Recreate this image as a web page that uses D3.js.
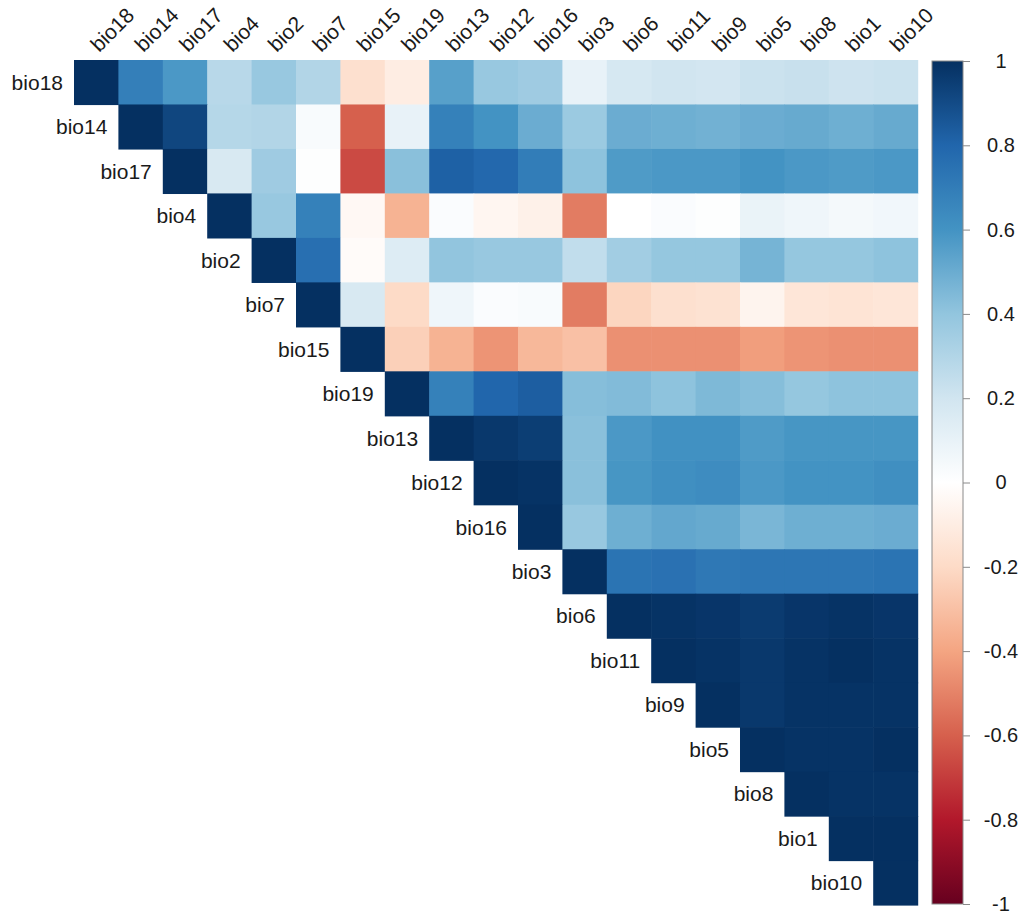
<!DOCTYPE html>
<html>
<head>
<meta charset="utf-8">
<script src="https://cdn.jsdelivr.net/npm/d3@7"></script>
<style>
  body { margin: 0; background: #fff; }
  text { font-family: "Liberation Sans", Arial, sans-serif; fill: #1a1a1a; }
</style>
</head>
<body>
<svg id="chart" width="1026" height="917"></svg>
<script>
// variable order (hclust order from the figure)
var vars = ['bio18', 'bio14', 'bio17', 'bio4', 'bio2', 'bio7', 'bio15', 'bio19', 'bio13',
            'bio12', 'bio16', 'bio3', 'bio6', 'bio11', 'bio9', 'bio5', 'bio8', 'bio1', 'bio10']

// upper triangle, each row starts at its diagonal
var corr = [
  [1, 0.69, 0.58, 0.28, 0.38, 0.30, -0.17, -0.10, 0.55, 0.38, 0.36, 0.10, 0.18, 0.20, 0.19, 0.22, 0.23, 0.21, 0.22],
  [1, 0.92, 0.29, 0.30, 0.03, -0.60, 0.10, 0.68, 0.60, 0.50, 0.37, 0.50, 0.49, 0.48, 0.50, 0.51, 0.49, 0.51],
  [1, 0.17, 0.36, 0.01, -0.66, 0.42, 0.82, 0.79, 0.70, 0.41, 0.57, 0.58, 0.58, 0.60, 0.58, 0.57, 0.58],
  [1, 0.38, 0.68, -0.04, -0.35, 0.02, -0.05, -0.08, -0.52, 0.00, 0.02, 0.01, 0.09, 0.07, 0.05, 0.06],
  [1, 0.76, -0.02, 0.15, 0.40, 0.38, 0.38, 0.25, 0.35, 0.39, 0.39, 0.47, 0.39, 0.39, 0.41],
  [1, 0.17, -0.20, 0.07, 0.02, 0.03, -0.52, -0.22, -0.17, -0.16, -0.06, -0.14, -0.15, -0.14],
  [1, -0.24, -0.35, -0.45, -0.33, -0.30, -0.46, -0.46, -0.46, -0.42, -0.45, -0.46, -0.46],
  [1, 0.68, 0.80, 0.83, 0.43, 0.44, 0.41, 0.45, 0.43, 0.39, 0.41, 0.41],
  [1, 0.97, 0.95, 0.42, 0.58, 0.61, 0.61, 0.57, 0.59, 0.59, 0.59],
  [1, 0.99, 0.42, 0.59, 0.62, 0.63, 0.58, 0.60, 0.60, 0.62],
  [1, 0.38, 0.49, 0.52, 0.51, 0.46, 0.49, 0.49, 0.50],
  [1, 0.74, 0.75, 0.72, 0.73, 0.73, 0.73, 0.74],
  [1, 0.99, 0.98, 0.96, 0.98, 0.99, 0.98],
  [1, 0.99, 0.97, 0.99, 1.00, 0.99],
  [1, 0.97, 0.99, 0.99, 0.99],
  [1, 0.99, 0.99, 1.00],
  [1, 0.99, 0.99],
  [1, 1.00],
  [1]
]

var legendTicks = [-1, -0.8, -0.6, -0.4, -0.2, 0, 0.2, 0.4, 0.6, 0.8, 1]
var palette = ['#67001F', '#B2182B', '#D6604D', '#F4A582', '#FDDBC7', '#FFFFFF',
               '#D1E5F0', '#92C5DE', '#4393C3', '#2166AC', '#053061']

var svg = d3.select('#chart')

var color = d3.scaleLinear()
            .domain(legendTicks)
            .range(palette)
            .interpolate(d3.interpolateRgb)

var x = d3.scaleBand().domain(vars).range([74, 917.6])
var y = d3.scaleBand().domain(vars).range([60, 905])

var cells = []
corr.forEach(function (row, i) {
  row.forEach(function (v, k) {
    cells.push({ row: vars[i], col: vars[i + k], value: v })
  })
})

svg.append('g')
  .selectAll('rect')
  .data(cells)
  .join('rect')
  .attr('x', function (d) { return x(d.col) })
  .attr('y', function (d) { return y(d.row) })
  .attr('width', x.bandwidth() + 0.6)
  .attr('height', y.bandwidth() + 0.6)
  .attr('fill', function (d) { return color(d.value) })

// row labels, right aligned just left of the diagonal
svg.append('g')
  .selectAll('text')
  .data(vars)
  .join('text')
  .attr('x', function (d) { return x(d) - 11 })
  .attr('y', function (d) { return y(d) + y.bandwidth() / 2 })
  .attr('dy', '0.36em')
  .attr('text-anchor', 'end')
  .attr('font-size', 21)
  .text(function (d) { return d })

// column labels, rotated
svg.append('g')
  .selectAll('text')
  .data(vars)
  .join('text')
  .attr('transform', function (d) {
    return 'translate(' + [x(d) + x.bandwidth() / 2 + 3, 53] + ') rotate(-45)'
  })
  .attr('text-anchor', 'start')
  .attr('font-size', 21)
  .text(function (d) { return d })

// colour legend
var barX = 932, barW = 31
var ly = d3.scaleLinear().domain([-1, 1]).range([904, 61])

var grad = svg.append('defs').append('linearGradient')
           .attr('id', 'bar_fill')
           .attr('x1', 0).attr('y1', 1).attr('x2', 0).attr('y2', 0)

grad.selectAll('stop')
  .data(legendTicks)
  .join('stop')
  .attr('offset', function (d) { return (d + 1) / 2 })
  .attr('stop-color', function (d) { return color(d) })

svg.append('rect')
  .attr('x', barX)
  .attr('y', ly(1))
  .attr('width', barW)
  .attr('height', ly(-1) - ly(1))
  .attr('fill', 'url(#bar_fill)')
  .attr('stroke', '#8a8a8a')
  .attr('stroke-width', 1)

var axis = svg.append('g')
           .attr('transform', 'translate(' + (barX + barW) + ',0)')
           .call(d3.axisRight(ly)
                 .tickValues(legendTicks)
                 .tickSize(7)
                 .tickFormat(function (d) { return String(+d.toFixed(1)) }))

axis.select('.domain').remove()
axis.selectAll('line').attr('stroke', '#8a8a8a')
axis.selectAll('text')
  .attr('x', 1001 - barX - barW)
  .attr('text-anchor', 'middle')
  .attr('font-size', 20)
  .attr('font-family', '"Liberation Sans", Arial, sans-serif')
  .attr('fill', '#1a1a1a')
</script>
</body>
</html>
